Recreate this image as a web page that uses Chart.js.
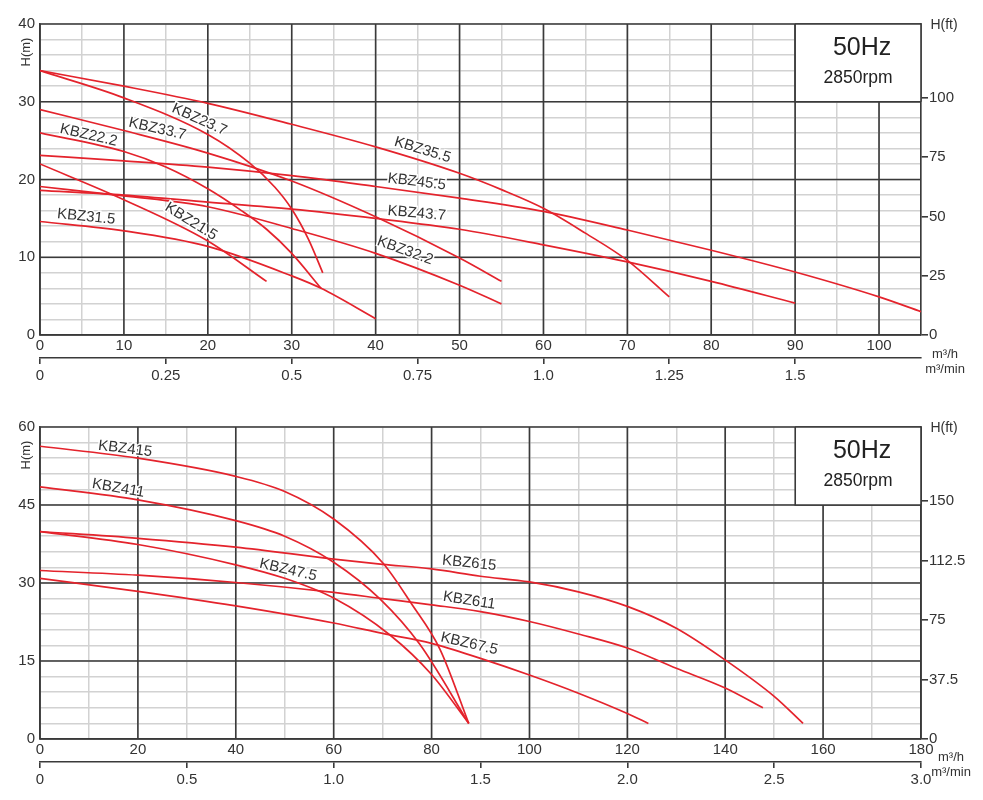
<!DOCTYPE html>
<html>
<head>
<meta charset="utf-8">
<script src="https://cdn.jsdelivr.net/npm/chart.js@4.4.1/dist/chart.umd.min.js"></script>
<style>
  body { margin: 0; background: #fff; }
  .box { position: absolute; left: 0; }
</style>
</head>
<body>
<div class="box" style="top:0px"><canvas id="topChart" width="983" height="390"></canvas></div>
<div class="box" style="top:400px"><canvas id="botChart" width="983" height="400"></canvas></div>
<script>
// ---- top chart data: [flow m3/h, head m] ----
const KBZ35_5 = [[0,34.0],[10,32.0],[20,29.8],[30,27.1],[40,24.2],[50,20.8],[55,18.7],[60,16.3],[65,13.1],[70,9.6],[75,4.9]];
const KBZ23_7 = [[0,34.0],[10,30.5],[20,25.8],[25,22.1],[28,19.0],[30,16.2],[32,12.3],[33.7,8.0]];
const KBZ33_7 = [[0,29.0],[10,26.3],[20,23.4],[30,19.8],[40,15.2],[50,9.9],[55,6.9]];
const KBZ22_2 = [[0,26.0],[10,23.6],[15,21.6],[20,18.8],[24,16.0],[27,13.6],[30,10.5],[33.5,6.0]];
const KBZ45_5 = [[0,23.1],[10,22.4],[20,21.6],[30,20.5],[40,19.1],[50,17.6],[60,15.9],[70,13.5],[80,10.9],[90,8.1],[100,4.9],[105,3.0]];
const KBZ21_5 = [[0,22.0],[10,17.4],[20,12.1],[27,6.9]];
const KBZ32_2 = [[0,19.1],[10,17.9],[20,16.5],[30,13.7],[40,10.5],[50,6.4],[55,4.0]];
const KBZ43_7 = [[0,18.6],[10,18.0],[20,17.1],[30,16.2],[40,15.0],[50,13.6],[60,11.6],[70,9.4],[80,6.9],[90,4.1]];
const KBZ31_5 = [[0,14.6],[10,13.4],[20,11.4],[30,7.6],[33.5,6.0],[40,2.1]];

// ---- bottom chart data ----
const KBZ415  = [[0,56.3],[20,54.0],[40,50.5],[50,47.6],[60,42.3],[70.1,33.8],[75.9,26.0],[81.7,17.3],[87.6,3.0]];
const KBZ411  = [[0,48.5],[20,46.0],[40,42.0],[50,39.0],[60,34.0],[69.5,26.9],[77.6,18.2],[87.6,3.0]];
const KBZ47_5 = [[0,39.9],[20,37.4],[40,33.5],[50,30.9],[60,27.1],[71.5,20.0],[80,12.4],[87.6,3.0]];
const KBZ615  = [[0,39.9],[20,38.6],[40,36.9],[60,34.6],[70,33.6],[80,32.7],[90,31.3],[100,30.2],[110,28.3],[120,25.5],[130,21.3],[140,15.2],[150,8.2],[155.9,3.0]];
const KBZ611  = [[0,32.4],[20,31.5],[40,30.1],[60,28.2],[70,27.0],[80,25.8],[90,24.5],[100,22.6],[110,20.2],[120,17.5],[130,13.6],[140,9.8],[147.7,6.0]];
const KBZ67_5 = [[0,30.9],[20,28.4],[40,25.6],[60,22.3],[70,20.3],[80,18.4],[90,15.5],[100,12.3],[110,8.8],[120,4.9],[124.3,3.0]];

// tick labels
const topFtTicks = [0, 25, 50, 75, 100];
const botFtTicks = [0, 37.5, 75, 112.5, 150];
const topMinTicks = [0, 0.25, 0.5, 0.75, 1.0, 1.25, 1.5];
const topMinLabels = ["0", "0.25", "0.5", "0.75", "1.0", "1.25", "1.5"];
const botMinTicks = [0, 0.5, 1.0, 1.5, 2.0, 2.5, 3.0];
const botMinLabels = ["0", "0.5", "1.0", "1.5", "2.0", "2.5", "3.0"];

// curve name labels: [text, flow, head, angle]
const topLabels = [
  ["KBZ23.7", 19.0, 27.7, 24], ["KBZ33.7", 14.0, 26.5, 13], ["KBZ22.2", 5.8, 25.7, 13],
  ["KBZ31.5", 5.5, 15.2, 6], ["KBZ21.5", 18.0, 14.6, 32], ["KBZ35.5", 45.6, 23.8, 17],
  ["KBZ45.5", 44.9, 19.7, 7], ["KBZ43.7", 44.9, 15.65, 5], ["KBZ32.2", 43.5, 10.85, 20]
];
const botLabels = [
  ["KBZ415", 17.4, 55.8, 7], ["KBZ411", 16.0, 48.2, 10], ["KBZ47.5", 50.7, 32.5, 13],
  ["KBZ615", 87.7, 33.8, 6], ["KBZ611", 87.7, 26.6, 9], ["KBZ67.5", 87.7, 18.3, 13]
];

const M_TO_FT = 3.28084;
const RED = "#e4232c";
const DARK = "#3a3a3a";
const LIGHT = "#d2d2d2";
const FONT = "'Liberation Sans', Arial, sans-serif";

function series(pts) {
  return {
    data: pts.map(p => ({ x: p[0], y: p[1] })),
    borderColor: RED,
    borderWidth: 1.7,
    pointRadius: 0,
    cubicInterpolationMode: "monotone",
    fill: false
  };
}

function decoPlugin(cfg) {
  return {
    id: "deco",
    beforeDatasetsDraw(chart) {
      const { ctx, chartArea: a, scales: { x, y } } = chart;
      ctx.save();
      // major grid lines on top of the light ones
      ctx.strokeStyle = DARK;
      ctx.lineWidth = 1.6;
      ctx.beginPath();
      x.ticks.forEach(t => {
        if (t.value % cfg.xMajor === 0) {
          const px = x.getPixelForValue(t.value);
          ctx.moveTo(px, a.top); ctx.lineTo(px, a.bottom);
        }
      });
      y.ticks.forEach(t => {
        if (t.value % cfg.yMajor === 0) {
          const py = y.getPixelForValue(t.value);
          ctx.moveTo(a.left, py); ctx.lineTo(a.right, py);
        }
      });
      ctx.stroke();
      // white legend box
      const x0 = x.getPixelForValue(cfg.boxX), y0 = y.getPixelForValue(cfg.boxY);
      ctx.fillStyle = "#fff";
      ctx.fillRect(x0, a.top, a.right - x0, y0 - a.top);
      ctx.beginPath();
      ctx.moveTo(x0, a.top); ctx.lineTo(x0, y0); ctx.lineTo(a.right, y0);
      ctx.moveTo(x0, a.top); ctx.lineTo(a.right, a.top); ctx.lineTo(a.right, y0);
      ctx.stroke();
      ctx.restore();
    },
    afterDraw(chart) {
      const { ctx, chartArea: a, scales: { x, y } } = chart;
      ctx.save();
      ctx.textAlign = "center";
      ctx.textBaseline = "middle";
      // curve labels
      ctx.font = "15px " + FONT;
      cfg.labels.forEach(l => {
        ctx.save();
        ctx.translate(x.getPixelForValue(l[1]), y.getPixelForValue(l[2]));
        ctx.rotate(l[3] * Math.PI / 180);
        ctx.lineWidth = 3;
        ctx.strokeStyle = "#fff";
        ctx.strokeText(l[0], 0, 0);
        ctx.fillStyle = "#333";
        ctx.fillText(l[0], 0, 0);
        ctx.restore();
      });
      // legend box text
      const bx = (x.getPixelForValue(cfg.boxX) + a.right) / 2;
      ctx.fillStyle = "#222";
      ctx.font = "25px " + FONT;
      ctx.fillText("50Hz", bx + 4, a.top + 24);
      ctx.font = "17.5px " + FONT;
      ctx.fillText("2850rpm", bx, a.top + 54);
      // axis titles
      ctx.fillStyle = "#333";
      ctx.font = "14px " + FONT;
      ctx.fillText("H(ft)", a.right + 23, a.top + 1);
      ctx.font = "13px " + FONT;
      ctx.fillText("m³/h", a.right + cfg.unitDx, cfg.unitY1);
      ctx.fillText("m³/min", a.right + cfg.unitDx, cfg.unitY2);
      ctx.save();
      ctx.translate(26, a.top + 28);
      ctx.rotate(-Math.PI / 2);
      ctx.fillText("H(m)", 0, 0);
      ctx.restore();
      ctx.restore();
    }
  };
}

function makeChart(id, o) {
  const tickFont = { family: FONT, size: 15 };
  return new Chart(document.getElementById(id), {
    type: "line",
    data: { datasets: o.data.map(series) },
    options: {
      responsive: false,
      animation: false,
      layout: { padding: { top: o.padTop, left: 0, right: 0, bottom: 0 } },
      plugins: { legend: { display: false }, tooltip: { enabled: false } },
      scales: {
        x: {
          type: "linear", position: "bottom", min: 0, max: o.xMax,
          ticks: {
            stepSize: o.xMinor, autoSkip: false, maxRotation: 0, padding: 2,
            color: "#333", font: tickFont,
            callback: v => (v % o.xMajor === 0 ? String(v) : "")
          },
          grid: { drawTicks: false, color: LIGHT, lineWidth: 1.5 },
          border: { color: DARK, width: 1.6 },
          afterFit: s => { s.height = 23; }
        },
        xMin: {
          type: "linear", position: "bottom", min: 0, max: o.xMax / 60,
          afterBuildTicks: s => { s.ticks = o.minTicks.map(v => ({ value: v })); },
          ticks: {
            autoSkip: false, maxRotation: 0, padding: 3, color: "#333", font: tickFont,
            callback: (v, i) => o.minLabels[i]
          },
          grid: { drawOnChartArea: false, drawTicks: true, tickLength: 6, color: DARK, lineWidth: 1.6 },
          border: { color: DARK, width: 1.6 },
          afterFit: s => { s.height = o.minH; }
        },
        y: {
          type: "linear", position: "left", min: 0, max: o.yMax,
          ticks: {
            stepSize: o.yMinor, autoSkip: false, padding: 5, color: "#333", font: tickFont,
            callback: v => (v % o.yMajor === 0 ? String(v) : "")
          },
          grid: { drawTicks: false, color: LIGHT, lineWidth: 1.5 },
          border: { color: DARK, width: 1.6 },
          afterFit: s => { s.width = 40; }
        },
        yFt: {
          type: "linear", position: "right", min: 0, max: o.yMax * M_TO_FT,
          afterBuildTicks: s => { s.ticks = o.ftTicks.map(v => ({ value: v })); },
          ticks: { autoSkip: false, padding: 1, color: "#333", font: tickFont },
          grid: { drawOnChartArea: false, drawTicks: true, tickLength: 7, color: DARK, lineWidth: 1.6 },
          border: { color: DARK, width: 1.6 },
          afterFit: s => { s.width = 62; }
        }
      }
    },
    plugins: [decoPlugin(o)]
  });
}

makeChart("topChart", {
  data: [KBZ35_5, KBZ23_7, KBZ33_7, KBZ22_2, KBZ45_5, KBZ21_5, KBZ32_2, KBZ43_7, KBZ31_5],
  labels: topLabels, padTop: 24,
  xMax: 105, xMinor: 5, xMajor: 10, yMax: 40, yMinor: 2, yMajor: 10,
  minTicks: topMinTicks, minLabels: topMinLabels, minH: 32, ftTicks: topFtTicks,
  boxX: 90, boxY: 30, unitDx: 24, unitY1: 354, unitY2: 369
});

makeChart("botChart", {
  data: [KBZ415, KBZ411, KBZ47_5, KBZ615, KBZ611, KBZ67_5],
  labels: botLabels, padTop: 27,
  xMax: 180, xMinor: 10, xMajor: 20, yMax: 60, yMinor: 3, yMajor: 15,
  minTicks: botMinTicks, minLabels: botMinLabels, minH: 38, ftTicks: botFtTicks,
  boxX: 154.3, boxY: 45, unitDx: 30, unitY1: 357, unitY2: 372
});
</script>
</body>
</html>
